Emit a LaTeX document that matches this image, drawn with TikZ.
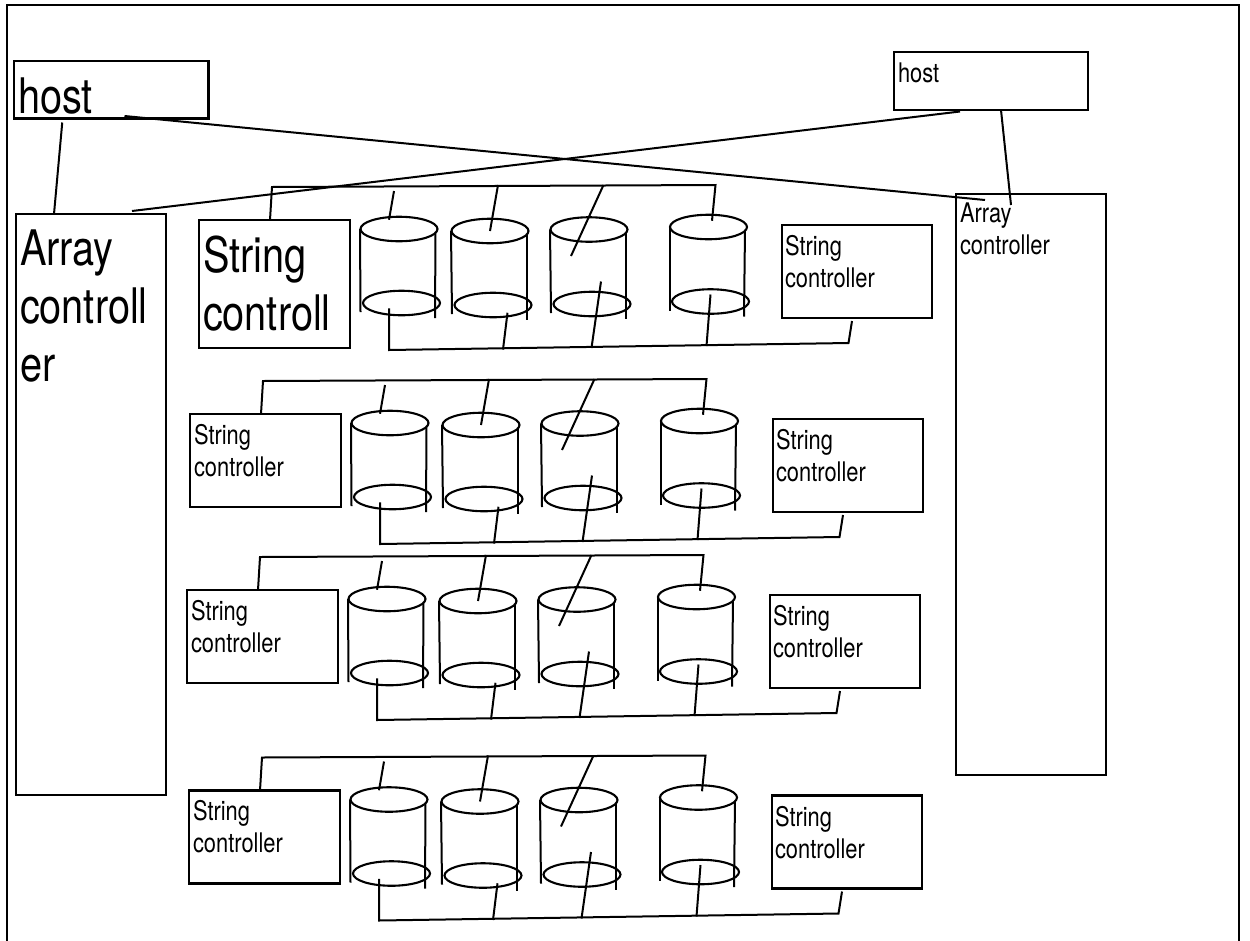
\documentclass[tikz,border=0pt]{standalone}
\usepackage{fontspec}
\usetikzlibrary{shapes.geometric}
\newfontfamily\narrowsans[FakeStretch=0.81]{TeX Gyre Heros}
\newcommand{\smstrut}{\rule{0pt}{20pt}}
\newcommand{\bgstrut}{\rule{0pt}{40pt}}
\tikzset{
  conn/.style={draw=black,line width=2pt,line join=miter},
  boxnode/.style={draw=black,line width=2.1pt,rectangle,anchor=north west,inner sep=0pt,outer sep=0pt},
  disknode/.style={draw=black,line width=2.1pt,ellipse,minimum width=77pt,minimum height=24.5pt,inner sep=0pt,outer sep=0pt},
  smalltxt/.style={font=\narrowsans\fontsize{27}{32}\selectfont,align=left,anchor=north west,inner sep=0pt,outer sep=0pt},
  bigtxt/.style={font=\narrowsans\fontsize{49}{58}\selectfont,align=left,anchor=north west,inner sep=0pt,outer sep=0pt}
}
% one cylinder: name, top centre, bottom centre
\newcommand{\platter}[5]{%
  \node[disknode] (#1t) at (#2,#3) {};
  \node[disknode] (#1b) at (#4,#5) {};
  \draw[conn] ([xshift=-0.5pt]#1t.west) -- ([xshift=-2.5pt,yshift=-9pt]#1b.west);
  \draw[conn] ([xshift=-2pt,yshift=-3pt]#1t.east) -- ([xshift=-5pt,yshift=-15pt]#1b.east);
}
% one row: name, dx, dy, left box height, text style, text top, text
\newcommand{\stringrow}[7]{%
  \begin{scope}[shift={(#2,#3)}]
    \node[boxnode,minimum width=151pt,minimum height=#4pt] (#1L) at (199,220) {};
    \node[#5] (#1Lt) at (203,#6) {#7};
    \node[boxnode,minimum width=150pt,minimum height=93pt] (#1R) at (782,225) {};
    \node[smalltxt] (#1Rt) at (785,235.5) {\smstrut String\\controller};
    \platter{#1a}{399}{229}{401.5}{303}
    \platter{#1c}{490}{231}{493}{305}
    \platter{#1e}{589}{229.5}{592}{304}
    \platter{#1g}{708.5}{227}{710.5}{301.5}
    \coordinate (#1tl) at (272,187);
    \coordinate (#1tr) at (715.5,185);
    \coordinate (#1bl) at (389,350);
    \coordinate (#1br) at (848.5,343);
    \coordinate (#1s1) at (394,191);
    \coordinate (#1s2) at (498,185);
    \coordinate (#1s3) at (603.5,185);
    \coordinate (#1s4) at (503,349.5);
    \coordinate (#1s5) at (591.5,348);
    \coordinate (#1s6) at (706.5,346);
    % upper bus
    \draw[conn] ([xshift=-4.5pt]#1L.north) -- (#1tl) -- (#1tr) -- ([xshift=3.5pt,yshift=-6pt]#1gt.north);
    \draw[conn] (#1s1) -- ([xshift=-10pt,yshift=-3pt]#1at.north);
    \draw[conn] (#1s2) -- (#1ct.center);
    \draw[conn] (#1s3) -- ([xshift=-18pt,yshift=-26.5pt]#1et.center);
    % lower bus
    \draw[conn] ([xshift=-12.5pt,yshift=7pt]#1ab.south) -- (#1bl) -- (#1br) -- ([xshift=-5pt,yshift=-3pt]#1R.south);
    \draw[conn] ([xshift=14.5pt,yshift=4.5pt]#1cb.south) -- (#1s4);
    \draw[conn] ([xshift=9pt,yshift=22.5pt]#1eb.center) -- (#1s5);
    \draw[conn] ([yshift=7pt]#1gb.center) -- (#1s6);
  \end{scope}
}
\begin{document}
\begin{tikzpicture}[x=1pt,y=-1pt]
  \useasboundingbox (0,0) rectangle (1250,940);
  % outer frame, open at the bottom
  \coordinate (fbl) at (6.7,941);
  \coordinate (ftl) at (6.7,5);
  \coordinate (ftr) at (1239,5);
  \coordinate (fbr) at (1239,941);
  \draw[conn,line width=2.2pt] (fbl) -- (ftl) -- (ftr) -- (fbr);

  % hosts
  \node[boxnode,minimum width=194.5pt,minimum height=57.5pt] (hostL) at (14,61) {};
  \node[bigtxt] (hostLt) at (18,73) {\bgstrut host};
  \node[boxnode,minimum width=194pt,minimum height=58pt] (hostR) at (894,52) {};
  \node[smalltxt] (hostRt) at (898,62) {\smstrut host};

  % array controllers
  \node[boxnode,minimum width=150pt,minimum height=581pt] (arrL) at (16,214) {};
  \node[bigtxt] (arrLt) at (20,225.7) {\bgstrut Array\\controll\\er};
  \node[boxnode,minimum width=150pt,minimum height=581pt] (arrR) at (956,194) {};
  \node[smalltxt] (arrRt) at (960,202.7) {\smstrut Array\\controller};

  % string rows
  \stringrow{p}{0}{0}{128}{bigtxt}{232.7}{\bgstrut String\\controll}
  \stringrow{q}{-9}{194}{93}{smalltxt}{230}{\smstrut String\\controller}
  \stringrow{r}{-12}{370}{93}{smalltxt}{230}{\smstrut String\\controller}
  \stringrow{s}{-10}{570.5}{93}{smalltxt}{230}{\smstrut String\\controller}

  % host links
  \draw[conn] ([xshift=-49pt,yshift=-4pt]hostL.south) -- ([xshift=-37pt]arrL.north);
  \draw[conn] ([xshift=-84pt,yshift=2.5pt]hostL.east |- hostL.south) -- ([xshift=-46pt,yshift=-6pt]arrR.north);
  \draw[conn] ([xshift=-31pt,yshift=-1.5pt]hostR.south) -- ([xshift=41pt,yshift=3pt]arrL.north);
  \draw[conn] ([xshift=10pt]hostR.south) -- ([xshift=-20pt,yshift=-11pt]arrR.north);
\end{tikzpicture}
\end{document}
